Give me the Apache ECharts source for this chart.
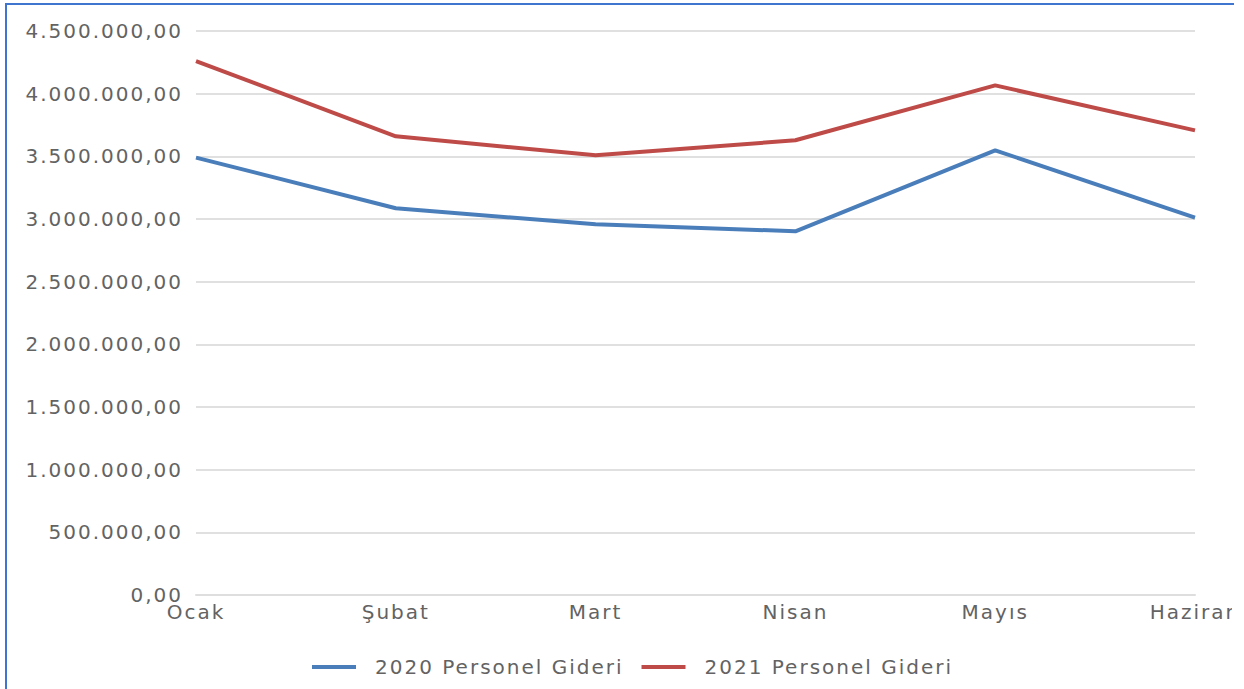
<!DOCTYPE html>
<html>
<head>
<meta charset="utf-8">
<title>Personel Gideri</title>
<script src="https://cdn.jsdelivr.net/npm/echarts@6/dist/echarts.min.js"></script>
<style>
    html, body { margin: 0; padding: 0; background: #fff; overflow: hidden; }
    #frame { position: absolute; left: 5px; top: 3px; width: 1227px; height: 690px;
             border-left: 2px solid #3f74cf; border-top: 2px solid #3f74cf; }
    #clip { position: absolute; left: 0; top: 0; width: 1232px; height: 689px; overflow: hidden; }
    #main { width: 1300px; height: 689px; }
    #main text { letter-spacing: 2px; }
</style>
</head>
<body>
<div id="clip"><div id="main"></div></div>
<div id="frame"></div>
<script>
    var months = ['Ocak', 'Şubat', 'Mart', 'Nisan', 'Mayıs', 'Haziran'];
    var gider2020 = [3490000, 3086000, 2958000, 2902000, 3548000, 3011000];
    var gider2021 = [4260000, 3660000, 3508000, 3628000, 4066000, 3707000];
    var seriesNames = ['2020 Personel Gideri', '2021 Personel Gideri'];

    function trFormat(v) {
        var parts = Math.round(v).toString().replace(/\B(?=(\d{3})+(?!\d))/g, '.');
        return parts + ',00';
    }

    var myChart = echarts.init(document.getElementById('main'), null, { renderer: 'svg' });
    var textColor = '#636363';
    var fontFamily = 'DejaVu Sans';

    var option = {
        animation: false,
        color: ['#4a7ebb', '#be4b48'],
        grid: { left: 196, right: 105, top: 31, bottom: 94 },
        legend: {
            left: 307,
            top: 652,
            itemWidth: 44,
            itemHeight: 4,
            // extra gap makes up for the css letter spacing that echarts does not measure
            itemGap: 58,
            icon: 'rect',
            textStyle: { color: textColor, fontFamily: fontFamily, fontSize: 20, padding: [0, 0, 0, 14] },
            data: seriesNames
        },
        xAxis: {
            type: 'category',
            boundaryGap: false,
            data: months,
            axisLine: { lineStyle: { color: '#dedede', width: 2 } },
            axisTick: { show: false },
            axisLabel: { color: textColor, fontFamily: fontFamily, fontSize: 20, margin: 7 }
        },
        yAxis: {
            type: 'value',
            min: 0,
            max: 4500000,
            interval: 500000,
            axisLine: { show: false },
            axisTick: { show: false },
            splitLine: { lineStyle: { color: '#e0e0e0', width: 2 } },
            axisLabel: { color: textColor, fontFamily: fontFamily, fontSize: 20, margin: 13, formatter: trFormat }
        },
        series: [{
            name: seriesNames[0],
            type: 'line',
            showSymbol: false,
            lineStyle: { width: 4 },
            data: gider2020
        }, {
            name: seriesNames[1],
            type: 'line',
            showSymbol: false,
            lineStyle: { width: 4 },
            data: gider2021
        }]
    };
    myChart.setOption(option);
    window.onresize = myChart.resize;
</script>
</body>
</html>
